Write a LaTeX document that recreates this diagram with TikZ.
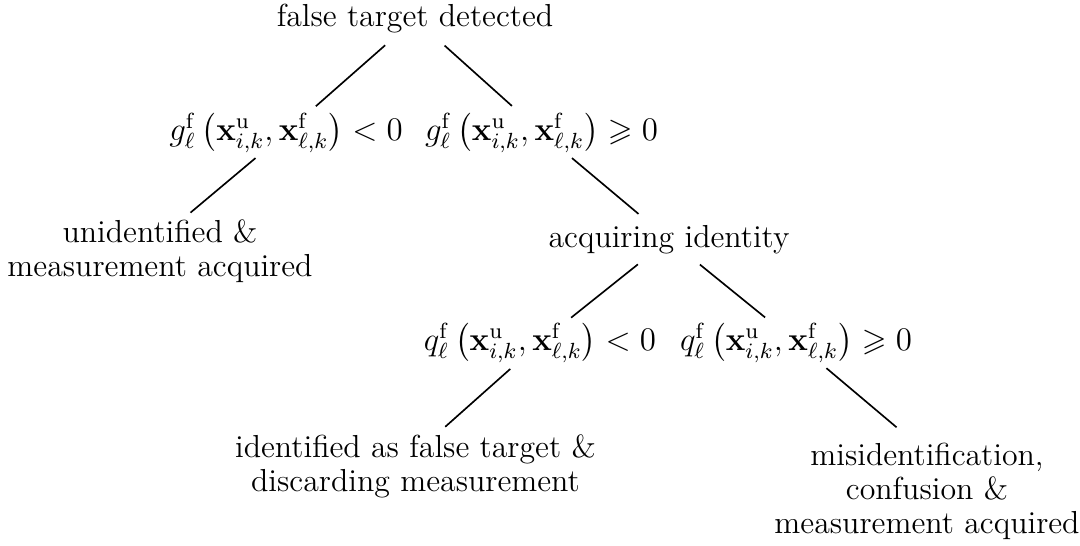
\documentclass[tikz,border=0pt]{standalone}
\usepackage{amsmath, amssymb}

\begin{document}
\begin{tikzpicture}[x=0.0128cm, y=-0.0128cm, line width=0.6pt,
    every node/.style={inner sep=0pt, font=\fontsize{11.6}{12.5}\selectfont},
    leaf/.style={align=center, anchor=north},
    branch/.style={draw, shorten >=14.5pt, shorten <=14.5pt}]
  \useasboundingbox (0,0) rectangle (1080,545);

  \node (1) at (415,19) {false target detected};
  \node (2) at (286,132.5) {$g^{\mathrm{f}}_{\ell}\,\bigl(\mathbf{x}^{\mathrm{u}}_{i,k},\mathbf{x}^{\mathrm{f}}_{\ell,k}\bigr) < 0$};
  \node (3) at (541.5,132.5) {$g^{\mathrm{f}}_{\ell}\,\bigl(\mathbf{x}^{\mathrm{u}}_{i,k},\mathbf{x}^{\mathrm{f}}_{\ell,k}\bigr) \geqslant 0$};
  \node (4) [leaf] at (160,219) {unidentified \&\\measurement acquired};
  \node (5) at (669,239.5) {acquiring identity};
  \node (6) at (540,342.5) {$q^{\mathrm{f}}_{\ell}\,\bigl(\mathbf{x}^{\mathrm{u}}_{i,k},\mathbf{x}^{\mathrm{f}}_{\ell,k}\bigr) < 0$};
  \node (7) at (796,342.5) {$q^{\mathrm{f}}_{\ell}\,\bigl(\mathbf{x}^{\mathrm{u}}_{i,k},\mathbf{x}^{\mathrm{f}}_{\ell,k}\bigr) \geqslant 0$};
  \node (8) [leaf] at (415.5,434) {identified as false target \&\\discarding measurement};
  \node (9) [leaf] at (927,442) {misidentification,\\confusion \&\\measurement acquired};

  \path[branch]
    (1.center) edge (2.center)
    (1.center) edge (3.center)
    (2.center) edge ([yshift=-7pt]4.north)
    (3.center) edge (5.center)
    (5.center) edge (6.center)
    (5.center) edge (7.center)
    (6.center) edge ([yshift=-7pt]8.north)
    (7.center) edge ([yshift=-4pt]9.north);

\end{tikzpicture}
\end{document}
